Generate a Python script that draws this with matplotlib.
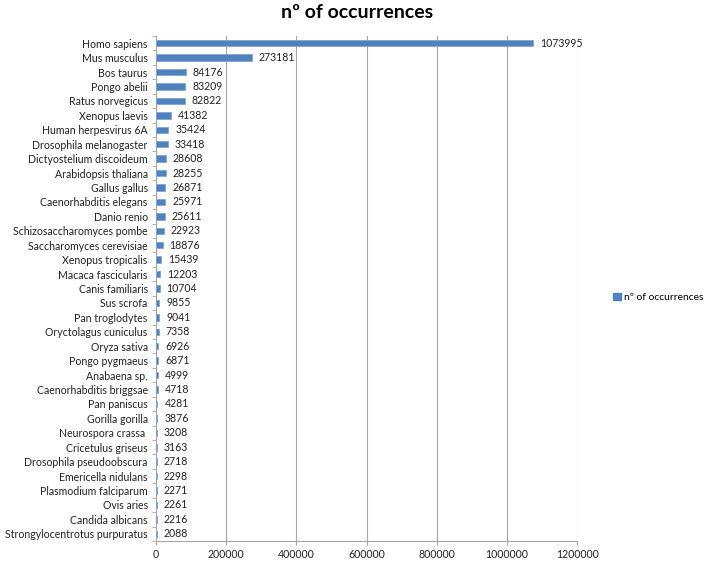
import matplotlib
matplotlib.use('Agg')
import matplotlib.pyplot as plt
from matplotlib.patches import Patch
from matplotlib.ticker import FixedLocator

species = ['Homo sapiens', 'Mus musculus', 'Bos taurus', 'Pongo abelii', 'Ratus norvegicus',
           'Xenopus laevis', 'Human herpesvirus 6A', 'Drosophila melanogaster',
           'Dictyostelium discoideum', 'Arabidopsis thaliana', 'Gallus gallus',
           'Caenorhabditis elegans', 'Danio renio', 'Schizosaccharomyces pombe',
           'Saccharomyces cerevisiae', 'Xenopus tropicalis', 'Macaca fascicularis',
           'Canis familiaris', 'Sus scrofa', 'Pan troglodytes', 'Oryctolagus cuniculus',
           'Oryza sativa', 'Pongo pygmaeus', 'Anabaena sp.', 'Caenorhabditis briggsae',
           'Pan paniscus', 'Gorilla gorilla', 'Neurospora crassa ', 'Cricetulus griseus',
           'Drosophila pseudoobscura', 'Emericella nidulans', 'Plasmodium falciparum',
           'Ovis aries', 'Candida albicans', 'Strongylocentrotus purpuratus']
occurrences = [1073995, 273181, 84176, 83209, 82822, 41382, 35424, 33418, 28608, 28255,
               26871, 25971, 25611, 22923, 18876, 15439, 12203, 10704, 9855, 9041, 7358,
               6926, 6871, 4999, 4718, 4281, 3876, 3208, 3163, 2718, 2298, 2271, 2261,
               2216, 2088]
x_ticks = [0, 200000, 400000, 600000, 800000, 1000000, 1200000]

plt.rcParams['font.family'] = ['Lato', 'DejaVu Sans']
bar_color = '#4F81BD'
grid_color = '#A6A6A6'
fs = 7.6

fig = plt.figure(figsize=(7.09, 5.63), dpi=100)
ax = fig.add_axes([0.220, 0.039, 0.594, 0.897])

pos = list(range(len(species)))
ax.barh(pos, occurrences, height=0.45, color=bar_color, edgecolor='#7EA6D8',
        linewidth=0.6, zorder=3)
for p, v in zip(pos, occurrences):
    ax.annotate(str(v), (v, p), xytext=(5, 0), textcoords='offset points',
                va='center', ha='left', fontsize=fs, color='#222222')

ax.set_ylim(len(species) - 0.5, -0.5)
ax.set_xlim(0, 1200000)
ax.set_yticks(pos)
ax.set_yticklabels(species, fontsize=fs, color='#222222')
ax.yaxis.set_minor_locator(FixedLocator([i - 0.5 for i in range(len(species) + 1)]))
ax.tick_params(axis='y', which='major', length=0, pad=6)
ax.tick_params(axis='y', which='minor', length=3, color=grid_color)
ax.set_xticks(x_ticks)
ax.set_xticklabels([str(t) for t in x_ticks], fontsize=fs, color='#222222')
ax.tick_params(axis='x', length=3, color=grid_color, pad=3)
ax.grid(axis='x', color=grid_color, linewidth=0.8, zorder=0)
for s in ['top', 'right']:
    ax.spines[s].set_visible(False)
for s in ['left', 'bottom']:
    ax.spines[s].set_color(grid_color)
    ax.spines[s].set_linewidth(0.8)

fig.text(0.504, 0.978, 'nº of occurrences', ha='center', va='center',
         fontsize=14, fontweight='bold')

fig.legend(handles=[Patch(color=bar_color, label='nº of occurrences')],
           loc='center left', bbox_to_anchor=(0.852, 0.472), frameon=False,
           fontsize=7.5, handlelength=0.7, handleheight=0.7, handletextpad=0.3)

fig.savefig('out.png', dpi=100)
